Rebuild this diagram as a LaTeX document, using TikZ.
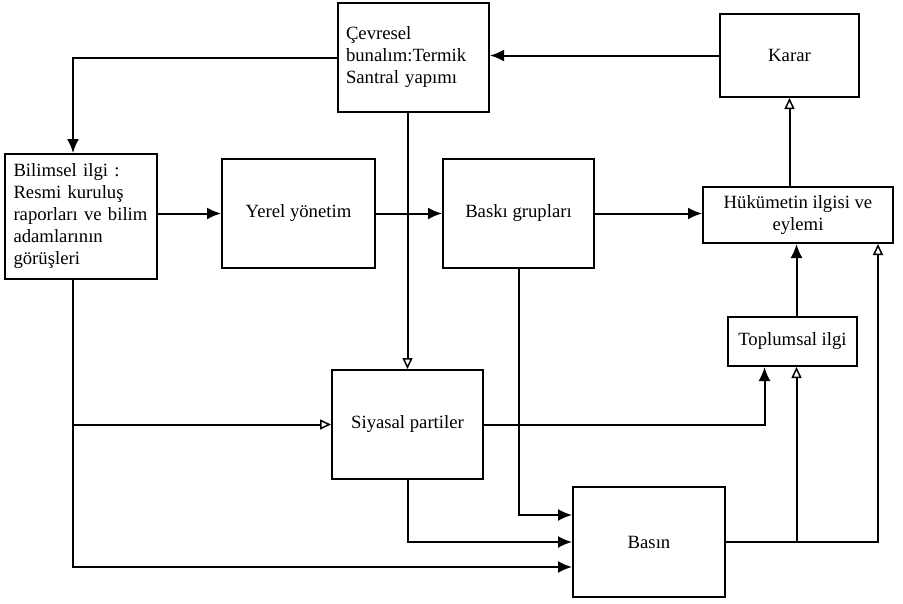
\documentclass[tikz,border=0pt]{standalone}
\usepackage{fontspec}
\setmainfont{Liberation Serif}
\usetikzlibrary{arrows.meta,calc}

\begin{document}
\begin{tikzpicture}[
  x=1pt,y=-1pt,
  font=\fontsize{18.7}{22}\selectfont,
  line width=2pt,
  >={Latex[length=14pt,width=12pt]},
  box/.style={draw,align=center,inner sep=2pt},
  lbox/.style={box,align=left,text width=135pt},
  flow/.style={->},
  oflow/.style={-{Triangle[open,length=11pt,width=10pt,line width=1.5pt]}},
]
\useasboundingbox (0,0) rectangle (903,603);
% ---- boxes ----
\node[lbox,minimum width=151pt,minimum height=109pt] (cev) at (413.5,57.5) {Çevresel\\bunalım:Termik\\Santral yapımı};
\node[box,minimum width=139pt,minimum height=83pt] (karar) at (789.5,55.5) {Karar};
\node[lbox,minimum width=152pt,minimum height=125pt] (bil) at (81,216.5) {Bilimsel ilgi :\\Resmi kuruluş\\raporları ve bilim\\adamlarının\\görüşleri};
\node[box,minimum width=153pt,minimum height=109pt] (yerel) at (298.5,213.5) {Yerel yönetim};
\node[box,minimum width=151pt,minimum height=109pt] (baski) at (518.5,213.5) {Baskı grupları};
\node[box,minimum width=190pt,minimum height=56pt] (huk) at (798,215) {Hükümetin ilgisi ve\\eylemi};
\node[box,minimum width=129pt,minimum height=49pt] (top) at (792.5,341.5) {Toplumsal ilgi};
\node[box,minimum width=151pt,minimum height=109pt] (sis) at (407.5,424.5) {Siyasal partiler};
\node[box,minimum width=152pt,minimum height=110pt] (basin) at (649,542) {Basın};
\coordinate (bus) at ([xshift=-8pt]bil.south);
\coordinate (tin) at ([xshift=4pt]top.south);
\coordinate (tout) at ([xshift=4pt]top.north);
% ---- upper row ----
\draw[flow] (cev.west) -| ([xshift=-8pt]bil.north);
\draw[flow] (karar.west) -- (karar.west -| cev.east);
\draw[flow] (yerel.west -| bil.east) -- (yerel.west);
\draw[flow] (yerel.east) -- (baski.west);
\draw[flow] (baski.east) -- (baski.east -| huk.west);
\draw[oflow] (huk.north -| karar.south) -- (karar.south);
% ---- down to the parties and the press ----
\draw[oflow] (sis.north |- cev.south) -- (sis.north);
\draw[flow] (bus) |- ([yshift=-25pt]basin.west);
\draw[oflow] (bus |- sis.west) -- (sis.west);
\draw[flow] (sis.south) |- (basin.west);
\draw[flow] (baski.south) |- ([yshift=27pt]basin.west);
% ---- back up to the government ----
\draw[flow] (sis.east) -| ([xshift=-28pt]top.south);
\draw[oflow] (basin.east) -| ([xshift=80pt]huk.south);
\draw[oflow] (basin.east -| tin) -- (tin);
\draw[flow] (tout) -- (tout |- huk.south);
\end{tikzpicture}
\end{document}
